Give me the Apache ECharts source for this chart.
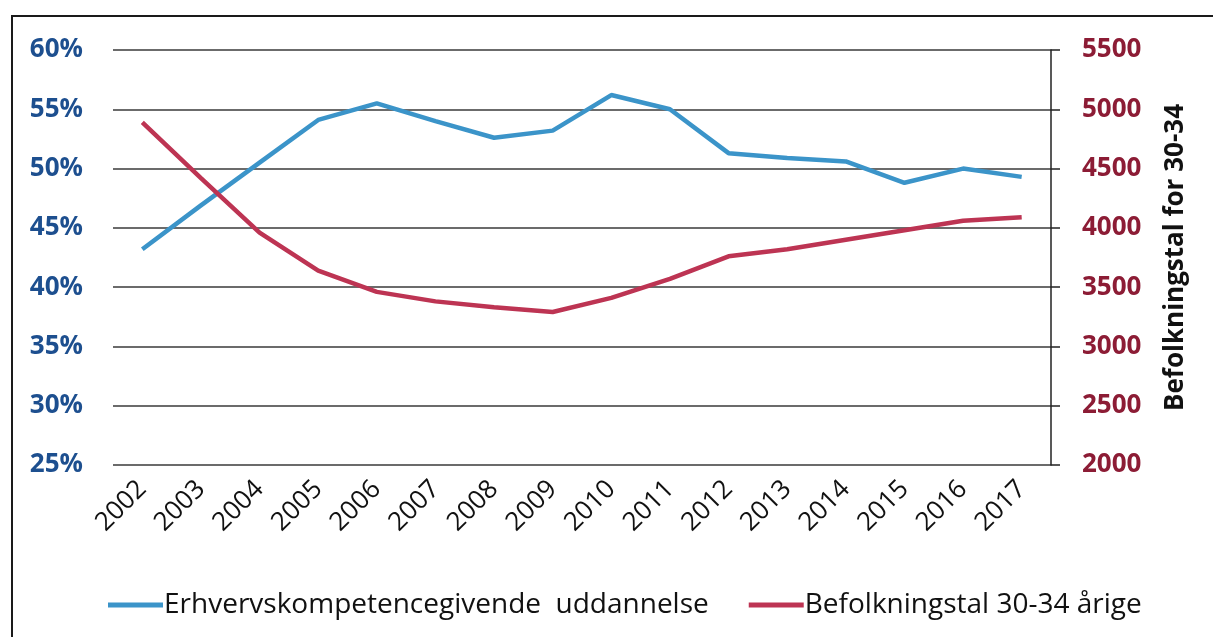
<!DOCTYPE html>
<html>
<head>
<meta charset="utf-8">
<script src="https://cdn.jsdelivr.net/npm/echarts@6/dist/echarts.min.js"></script>
<style>
  body { margin: 0; background: #fff; }
  .frame {
    position: absolute; left: 11px; top: 15px; width: 1400px; height: 800px;
    border-left: 2px solid #1a1a1a; border-top: 2px solid #1a1a1a;
  }
  #chart { position: absolute; left: 0; top: 0; width: 1213px; height: 637px; }
</style>
</head>
<body>
<div class="frame"></div>
<div id="chart"></div>
<script>
// 年份
const years = ['2002', '2003', '2004', '2005', '2006', '2007', '2008', '2009',
  '2010', '2011', '2012', '2013', '2014', '2015', '2016', '2017']
// 左轴：百分比
const uddannelse = [43.2, 46.9, 50.5, 54.1, 55.5, 54.0, 52.6, 53.2,
  56.2, 55.0, 51.3, 50.9, 50.6, 48.8, 50.0, 49.3]
// 右轴：人口数
const befolkning = [4890, 4420, 3960, 3640, 3460, 3380, 3330, 3290,
  3410, 3570, 3760, 3820, 3900, 3980, 4060, 4090]
const seriesNames = ['Erhvervskompetencegivende  uddannelse', 'Befolkningstal 30-34 årige']
const rightAxisName = 'Befolkningstal for 30-34'

const font = 'Open Sans'
const chart = echarts.init(document.getElementById('chart'))
chart.setOption({
  animation: false,
  textStyle: { fontFamily: font },
  grid: { left: 113, right: 162, top: 50, bottom: 172 },
  legend: {
    left: 103,
    top: 586,
    itemWidth: 55,
    itemHeight: 5,
    itemGap: 40,
    icon: 'rect',
    textStyle: { fontSize: 28, color: '#111', fontFamily: font, padding: [0, 0, 0, -4] },
    data: seriesNames
  },
  xAxis: {
    type: 'category',
    data: years,
    axisLine: { show: false },
    axisTick: { show: false },
    axisLabel: {
      rotate: 45,
      fontSize: 26,
      color: '#111',
      margin: 20,
      interval: 0
    }
  },
  yAxis: [
    {
      type: 'value',
      min: 25,
      max: 60,
      interval: 5,
      axisLine: { show: false },
      axisTick: { show: false },
      axisLabel: {
        formatter: '{value}%',
        fontSize: 26,
        fontWeight: 'bold',
        color: '#1d4f8f',
        margin: 30
      },
      splitLine: { lineStyle: { color: '#3a3a3a', width: 1.5 } }
    },
    {
      type: 'value',
      min: 2000,
      max: 5500,
      interval: 500,
      position: 'right',
      axisLine: { show: true, lineStyle: { color: '#222', width: 1.5 } },
      axisTick: { show: true, length: 9, lineStyle: { color: '#222', width: 1.5 } },
      axisLabel: {
        formatter: (v) => String(v),
        fontSize: 26,
        fontWeight: 'bold',
        color: '#8c1c35',
        margin: 31
      },
      splitLine: { show: false },
      name: rightAxisName,
      nameLocation: 'middle',
      nameRotate: 90,
      nameGap: 112,
      nameTextStyle: { fontSize: 26, fontWeight: 'bold', color: '#111' }
    }
  ],
  series: [
    {
      name: seriesNames[0],
      type: 'line',
      data: uddannelse,
      yAxisIndex: 0,
      symbol: 'none',
      lineStyle: { width: 4.5, color: '#3b94c9' },
      itemStyle: { color: '#3b94c9' }
    },
    {
      name: seriesNames[1],
      type: 'line',
      data: befolkning,
      yAxisIndex: 1,
      symbol: 'none',
      lineStyle: { width: 4.5, color: '#bd3453' },
      itemStyle: { color: '#bd3453' }
    }
  ]
})
</script>
</body>
</html>
